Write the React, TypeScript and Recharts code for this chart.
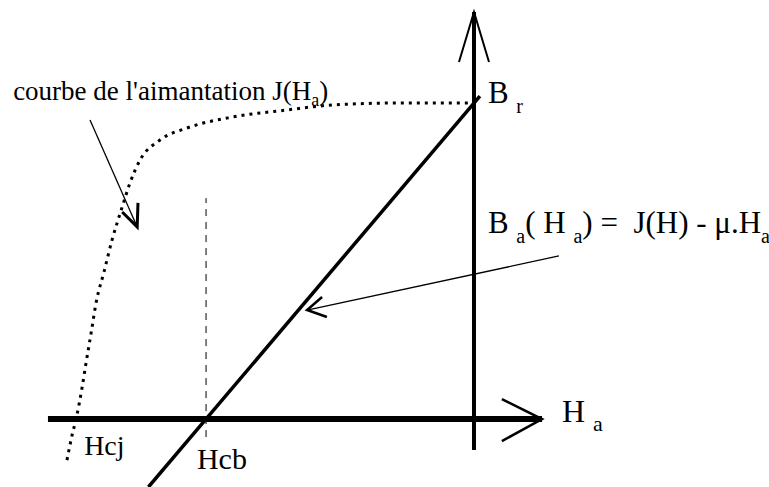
import React from 'react';
import { ComposedChart, Line, XAxis, YAxis, ReferenceDot } from 'recharts';

// H in units of Hcb, B/J in units of Br
const jCurve = [
  { x: -1.519, y: -0.13 },
  { x: -1.5, y: -0.051 },
  { x: -1.485, y: 0 },
  { x: -1.463, y: 0.098 },
  { x: -1.448, y: 0.177 },
  { x: -1.429, y: 0.272 },
  { x: -1.41, y: 0.37 },
  { x: -1.381, y: 0.465 },
  { x: -1.351, y: 0.566 },
  { x: -1.313, y: 0.671 },
  { x: -1.284, y: 0.747 },
  { x: -1.246, y: 0.82 },
  { x: -1.172, y: 0.883 },
  { x: -1.071, y: 0.921 },
  { x: -0.899, y: 0.956 },
  { x: -0.698, y: 0.978 },
  { x: -0.526, y: 0.994 },
  { x: -0.276, y: 1.0 },
  { x: -0.004, y: 1.0 },
];

// B = J - mu.H, straight through (-Hcb, 0) and (0, Br)
const bLine = [
  { x: -1.215, y: -0.215 },
  { x: 0.022, y: 1.022 },
];

const hcbMarker = [
  { x: -1, y: -0.057 },
  { x: -1, y: 0.699 },
];

const hAxis = [
  { x: -1.59, y: 0 },
  { x: 0.254, y: 0 },
];
const hAxisHead = [
  { x: 0.104, y: 0.063 },
  { x: 0.254, y: 0 },
  { x: 0.104, y: -0.07 },
];

const bAxis = [
  { x: 0, y: -0.098 },
  { x: 0, y: 1.288 },
];
const bAxisHead = [
  { x: -0.056, y: 1.13 },
  { x: 0, y: 1.288 },
  { x: 0.056, y: 1.13 },
];

// annotation arrows
const noteJ = [
  { x: -1.433, y: 0.946 },
  { x: -1.257, y: 0.608 },
];
const noteJHead = [
  { x: -1.313, y: 0.655 },
  { x: -1.257, y: 0.608 },
  { x: -1.254, y: 0.684 },
];
const noteB = [
  { x: 0.317, y: 0.516 },
  { x: -0.623, y: 0.345 },
];
const noteBHead = [
  { x: -0.567, y: 0.386 },
  { x: -0.623, y: 0.345 },
  { x: -0.549, y: 0.323 },
];

type Part = { t: string; sub?: boolean };

const curveLabel: Part[] = [{ t: "courbe de l'aimantation J(H" }, { t: 'a', sub: true }, { t: ')' }];
const formulaLabel: Part[] = [
  { t: 'B ' },
  { t: 'a', sub: true },
  { t: '( H ' },
  { t: 'a', sub: true },
  { t: ') =  J(H) - \u03bc.H' },
  { t: 'a', sub: true },
];
const brLabel: Part[] = [{ t: 'B ' }, { t: 'r', sub: true }];
const haLabel: Part[] = [{ t: 'H ' }, { t: 'a', sub: true }];

const FONT = "'Liberation Serif', 'Times New Roman', Times, serif";

function mathLabel(parts: Part[], size: number, subSize: number, subDrop: number) {
  return (props: any) => {
    const vb = props.viewBox || {};
    let prevSub = false;
    return (
      <text x={vb.x} y={vb.y} fill="#000" style={{ fontFamily: FONT, fontSize: size, whiteSpace: 'pre' }}>
        {parts.map((p, i) => {
          let dy = 0;
          if (p.sub && !prevSub) dy = subDrop;
          if (!p.sub && prevSub) dy = -subDrop;
          prevSub = !!p.sub;
          return (
            <tspan key={i} dy={dy} style={{ fontSize: p.sub ? subSize : size }}>
              {p.t}
            </tspan>
          );
        })}
      </text>
    );
  };
}

const stroke = (data: { x: number; y: number }[], width: number, extra: any = {}) => ({
  data,
  dataKey: 'y',
  stroke: '#000',
  strokeWidth: width,
  dot: false,
  activeDot: false,
  isAnimationActive: false,
  type: 'linear' as const,
  ...extra,
});

export default function App() {
  return (
    <div style={{ position: 'absolute', left: 0, top: 0, width: 769, height: 487, background: '#fff' }}>
      <ComposedChart width={769} height={487} margin={{ top: 0, right: 0, bottom: 0, left: 0 }}>
        <XAxis type="number" dataKey="x" domain={[-1.769, 1.101]} allowDataOverflow hide />
        <YAxis type="number" domain={[-0.215, 1.326]} allowDataOverflow hide />

        <Line {...stroke(hcbMarker, 1, { strokeDasharray: '7 6' })} />
        <Line {...stroke(jCurve, 3, { strokeDasharray: '3 5', type: 'monotone' })} />
        <Line {...stroke(bLine, 3.5)} />

        <Line {...stroke(hAxis, 6)} />
        <Line {...stroke(hAxisHead, 2.5)} />
        <Line {...stroke(bAxis, 4)} />
        <Line {...stroke(bAxisHead, 2)} />

        <Line {...stroke(noteJ, 1.3)} />
        <Line {...stroke(noteJHead, 3)} />
        <Line {...stroke(noteB, 1.3)} />
        <Line {...stroke(noteBHead, 2.5)} />

        <ReferenceDot x={-1.72} y={1.009} r={0} label={mathLabel(curveLabel, 27, 18, 6)} />
        <ReferenceDot x={0.052} y={1.0} r={0} label={mathLabel(brLabel, 31, 20, 10)} />
        <ReferenceDot x={0.328} y={-0.0095} r={0} label={mathLabel(haLabel, 32, 22, 9)} />
        <ReferenceDot x={0.052} y={0.589} r={0} label={mathLabel(formulaLabel, 31, 20, 10)} />
        <ReferenceDot x={-1.455} y={-0.114} r={0} label={mathLabel([{ t: 'Hcj' }], 28, 20, 0)} />
        <ReferenceDot x={-1.034} y={-0.158} r={0} label={mathLabel([{ t: 'Hcb' }], 30, 20, 0)} />
      </ComposedChart>
    </div>
  );
}
